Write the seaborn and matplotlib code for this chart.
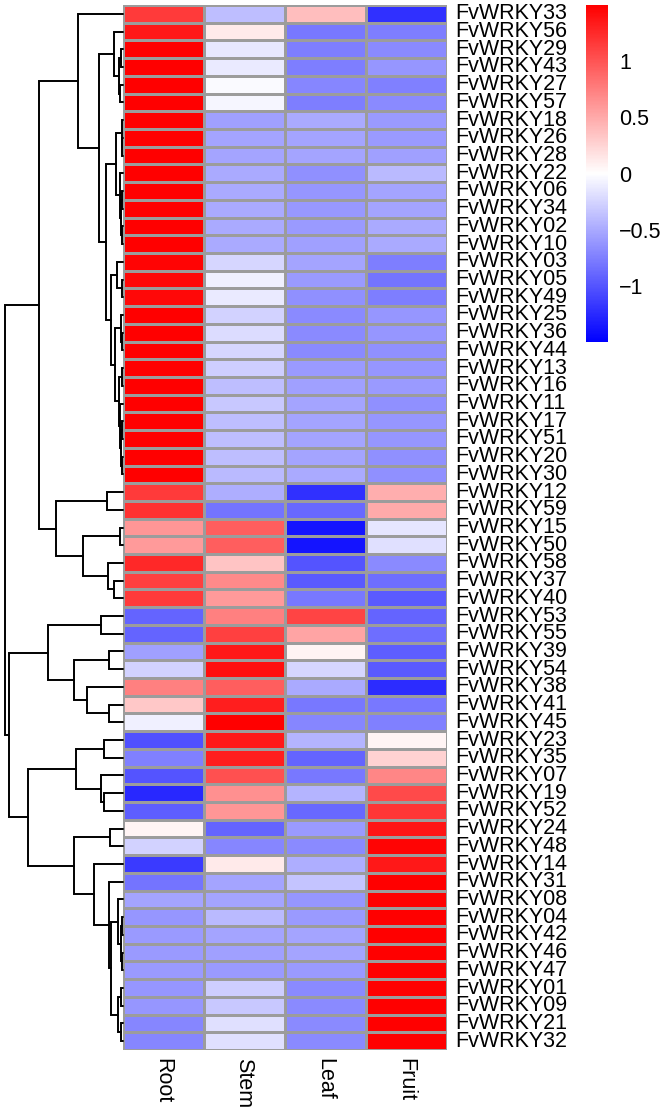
import numpy as np
import pandas as pd
import matplotlib
matplotlib.use("Agg")
import matplotlib.pyplot as plt
import seaborn as sns
from matplotlib.colors import LinearSegmentedColormap
from matplotlib.ticker import FuncFormatter

# ---------------- data ----------------
genes = ["FvWRKY33", "FvWRKY56", "FvWRKY29", "FvWRKY43", "FvWRKY27", "FvWRKY57",
         "FvWRKY18", "FvWRKY26", "FvWRKY28", "FvWRKY22", "FvWRKY06", "FvWRKY34",
         "FvWRKY02", "FvWRKY10", "FvWRKY03", "FvWRKY05", "FvWRKY49", "FvWRKY25",
         "FvWRKY36", "FvWRKY44", "FvWRKY13", "FvWRKY16", "FvWRKY11", "FvWRKY17",
         "FvWRKY51", "FvWRKY20", "FvWRKY30", "FvWRKY12", "FvWRKY59", "FvWRKY15",
         "FvWRKY50", "FvWRKY58", "FvWRKY37", "FvWRKY40", "FvWRKY53", "FvWRKY55",
         "FvWRKY39", "FvWRKY54", "FvWRKY38", "FvWRKY41", "FvWRKY45", "FvWRKY23",
         "FvWRKY35", "FvWRKY07", "FvWRKY19", "FvWRKY52", "FvWRKY24", "FvWRKY48",
         "FvWRKY14", "FvWRKY31", "FvWRKY08", "FvWRKY04", "FvWRKY42", "FvWRKY46",
         "FvWRKY47", "FvWRKY01", "FvWRKY09", "FvWRKY21", "FvWRKY32"]
tissues = ["Root", "Stem", "Leaf", "Fruit"]

root = [1.15, 1.35, 1.5, 1.5, 1.5, 1.5, 1.5, 1.5, 1.5, 1.5, 1.5, 1.5, 1.5, 1.5,
        1.47, 1.45, 1.45, 1.5, 1.5, 1.5, 1.5, 1.5, 1.5, 1.5, 1.5, 1.5, 1.5,
        1.15, 1.2, 0.62, 0.59, 1.26, 1.12, 1.15, -0.91, -0.91, -0.56, -0.26,
        0.74, 0.32, -0.09, -1.03, -0.74, -1.0, -1.26, -0.94, 0.06, -0.26, -1.15,
        -0.82, -0.53, -0.62, -0.59, -0.59, -0.59, -0.62, -0.62, -0.71, -0.71]
stem = [-0.38, 0.12, -0.14, -0.12, -0.03, -0.05, -0.56, -0.53, -0.53, -0.5, -0.5,
        -0.5, -0.5, -0.5, -0.24, -0.09, -0.12, -0.26, -0.21, -0.24, -0.29, -0.38,
        -0.32, -0.38, -0.38, -0.38, -0.41, -0.47, -0.82, 0.94, 0.94, 0.35, 0.68,
        0.59, 0.74, 1.12, 1.35, 1.41, 0.94, 1.32, 1.5, 1.35, 1.32, 1.03, 0.65,
        0.62, -0.91, -0.71, 0.12, -0.53, -0.53, -0.41, -0.53, -0.56, -0.59, -0.29,
        -0.32, -0.18, -0.18]
leaf = [0.38, -0.79, -0.76, -0.76, -0.71, -0.76, -0.5, -0.53, -0.53, -0.65, -0.62,
        -0.6, -0.59, -0.56, -0.53, -0.59, -0.65, -0.68, -0.68, -0.68, -0.59, -0.56,
        -0.53, -0.53, -0.53, -0.53, -0.5, -1.21, -0.88, -1.38, -1.38, -1.0, -0.97,
        -0.79, 1.09, 0.53, 0.06, -0.24, -0.5, -0.79, -0.71, -0.44, -0.91, -0.79,
        -0.44, -0.88, -0.59, -0.68, -0.47, -0.35, -0.62, -0.59, -0.53, -0.53,
        -0.59, -0.68, -0.68, -0.68, -0.68]
fruit = [-1.21, -0.76, -0.68, -0.62, -0.74, -0.68, -0.59, -0.59, -0.56, -0.41, -0.53,
         -0.53, -0.5, -0.5, -0.76, -0.82, -0.76, -0.62, -0.62, -0.65, -0.62, -0.59,
         -0.65, -0.62, -0.62, -0.65, -0.65, 0.47, 0.5, -0.15, -0.18, -0.68, -0.85,
         -0.97, -0.91, -0.85, -0.94, -0.97, -1.24, -0.79, -0.74, 0.06, 0.26, 0.71,
         1.06, 1.18, 1.38, 1.47, 1.35, 1.5, 1.5, 1.5, 1.5, 1.5, 1.5, 1.5, 1.5,
         1.5, 1.5]

# row dendrogram: (child_a, child_b, height); ints refer to earlier merges
merges = [
    ("FvWRKY29", "FvWRKY43", 2.0),   # 0
    ("FvWRKY27", "FvWRKY57", 2.5),   # 1
    (0, 1, 4.0),                     # 2
    ("FvWRKY56", 2, 9.0),            # 3
    ("FvWRKY26", "FvWRKY28", 0.4),   # 4
    ("FvWRKY18", 4, 1.0),            # 5
    ("FvWRKY06", "FvWRKY34", 0.5),   # 6
    ("FvWRKY02", "FvWRKY10", 0.6),   # 7
    (6, 7, 1.2),                     # 8
    ("FvWRKY22", 8, 3.0),            # 9
    (5, 9, 7.0),                     # 10
    ("FvWRKY05", "FvWRKY49", 1.0),   # 11
    ("FvWRKY03", 11, 6.0),           # 12
    ("FvWRKY36", "FvWRKY44", 0.3),   # 13
    ("FvWRKY25", 13, 1.2),           # 14
    ("FvWRKY13", "FvWRKY16", 1.0),   # 15
    ("FvWRKY17", "FvWRKY51", 0.4),   # 16
    ("FvWRKY20", "FvWRKY30", 0.6),   # 17
    (16, 17, 1.5),                   # 18
    ("FvWRKY11", 18, 2.5),           # 19
    (15, 19, 4.0),                   # 20
    (14, 20, 8.0),                   # 21
    (12, 21, 12.0),                  # 22
    (10, 22, 17.0),                  # 23
    (3, 23, 24.0),                   # 24
    ("FvWRKY33", 24, 45.0),          # 25
    ("FvWRKY12", "FvWRKY59", 16.0),  # 26
    ("FvWRKY15", "FvWRKY50", 3.0),   # 27
    ("FvWRKY37", "FvWRKY40", 9.0),   # 28
    ("FvWRKY58", 28, 15.0),          # 29
    (27, 29, 40.0),                  # 30
    (26, 30, 67.0),                  # 31
    (25, 31, 84.0),                  # 32
    ("FvWRKY53", "FvWRKY55", 22.0),  # 33
    ("FvWRKY39", "FvWRKY54", 14.0),  # 34
    ("FvWRKY41", "FvWRKY45", 14.0),  # 35
    ("FvWRKY38", 35, 36.0),          # 36
    (34, 36, 49.0),                  # 37
    (33, 37, 75.0),                  # 38
    ("FvWRKY23", "FvWRKY35", 19.0),  # 39
    ("FvWRKY19", "FvWRKY52", 19.0),  # 40
    ("FvWRKY07", 40, 22.0),          # 41
    (39, 41, 47.0),                  # 42
    ("FvWRKY24", "FvWRKY48", 13.0),  # 43
    ("FvWRKY04", "FvWRKY42", 0.8),   # 44
    ("FvWRKY46", "FvWRKY47", 0.8),   # 45
    (44, 45, 2.0),                   # 46
    ("FvWRKY08", 46, 5.0),           # 47
    ("FvWRKY01", "FvWRKY09", 1.5),   # 48
    ("FvWRKY21", "FvWRKY32", 1.5),   # 49
    (48, 49, 5.0),                   # 50
    (47, 50, 12.0),                  # 51
    ("FvWRKY31", 51, 14.0),          # 52
    ("FvWRKY14", 52, 29.0),          # 53
    (43, 53, 49.0),                  # 54
    (42, 54, 95.0),                  # 55
    (38, 55, 114.0),                 # 56
    (32, 56, 118.0),                 # 57
]

# ---------------- figure ----------------
W, H = 666, 1114
sns.set_style("white")
plt.rcParams["font.family"] = ["Liberation Sans", "DejaVu Sans"]
plt.rcParams["text.color"] = "black"
plt.rcParams["xtick.color"] = "black"
plt.rcParams["ytick.color"] = "black"
plt.rcParams["xtick.labelcolor"] = "black"
plt.rcParams["ytick.labelcolor"] = "black"
fig = plt.figure(figsize=(W / 100, H / 100), dpi=100)

def fx(px): return px / W
def fy(py): return 1 - py / H

top, bot = 5, 1050
hm_left, hm_right = 122.5, 446.5
ax = fig.add_axes([fx(hm_left), fy(bot), fx(hm_right - hm_left), (bot - top) / H])
cax = fig.add_axes([fx(586), fy(342), fx(22), 337 / H])
dax = fig.add_axes([0, fy(bot), fx(hm_left), (bot - top) / H])

df = pd.DataFrame({"Root": root, "Stem": stem, "Leaf": leaf, "Fruit": fruit},
                  index=genes)[tissues]
cmap = LinearSegmentedColormap.from_list("bwr3", ["#0000FF", "#FFFFFF", "#FF0000"], N=256)

sns.heatmap(df, ax=ax, cmap=cmap, vmin=-1.5, vmax=1.5, cbar_ax=cax,
            linewidths=0.85, linecolor="#9C9C9C",
            cbar_kws={"ticks": [-1, -0.5, 0, 0.5, 1]})

fs = 15.5
ax.yaxis.tick_right()
ax.set_yticks(np.arange(len(genes)) + 0.5)
ax.set_yticklabels(genes, rotation=0, fontsize=fs, va="center", ha="left",
                   color="black")
ax.set_xticks(np.arange(len(tissues)) + 0.5)
ax.set_xticklabels(tissues, rotation=270, fontsize=fs, ha="center", va="top",
                   color="black")
ax.tick_params(axis="both", length=0)
ax.tick_params(axis="y", pad=6)
ax.tick_params(axis="x", pad=6)
ax.set_xlabel("")
ax.set_ylabel("")
for s in ax.spines.values():
    s.set_visible(False)

cbar = ax.collections[0].colorbar
cbar.outline.set_visible(False)
cax.tick_params(length=0, labelsize=fs, pad=8, labelcolor="black")
cax.yaxis.set_major_formatter(FuncFormatter(lambda v, p: f"{v:g}".replace("-", "\u2212")))

# ---------------- dendrogram ----------------
pos = {g: (0.0, i + 0.5) for i, g in enumerate(genes)}
node = {}
def get(k):
    return pos[k] if isinstance(k, str) else node[k]
for i, (a, b, h) in enumerate(merges):
    ha, ya = get(a)
    hb, yb = get(b)
    dax.plot([ha, h, h, hb], [ya, ya, yb, yb], color="black", lw=1.4,
             solid_joinstyle="miter", clip_on=False)
    node[i] = (h, (ya + yb) / 2)

dax.set_xlim(hm_left, 0)
dax.set_ylim(len(genes), 0)
dax.axis("off")

fig.savefig("out.png", dpi=100)
